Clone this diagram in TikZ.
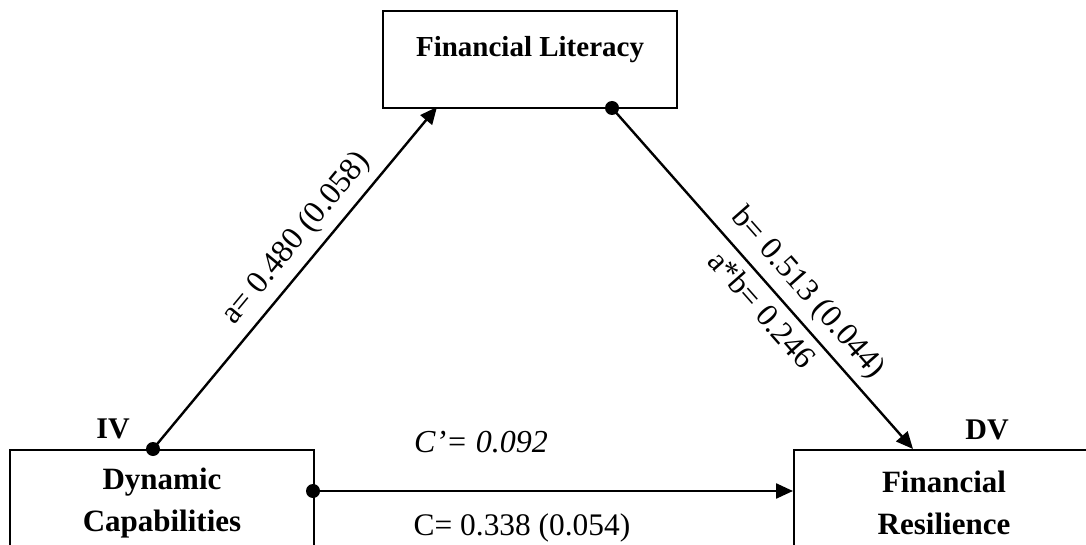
\documentclass[tikz,border=0pt]{standalone}
\usepackage{fontspec}
\setmainfont{Liberation Serif}
\usetikzlibrary{arrows.meta}
\begin{document}
\begin{tikzpicture}[x=0.5pt,y=-0.5pt,
  box/.style={draw, line width=1.2pt, rectangle, inner sep=0pt, anchor=north west},
  boxtext/.style={font=\fontsize{15.5}{21}\selectfont\bfseries, align=center, inner sep=0pt},
  tag/.style={font=\fontsize{15}{18}\selectfont\bfseries, inner sep=0pt},
  lbl/.style={font=\fontsize{15.7}{19}\selectfont, inner sep=0pt},
  slbl/.style={font=\fontsize{16}{19}\selectfont, inner sep=4pt, sloped},
  dot/.style={circle, fill=black, inner sep=0pt, minimum size=7pt},
  conn/.style={line width=1.2pt, -{Triangle[length=8.5pt,width=7.5pt]}}
]
\useasboundingbox (0,0) rectangle (1086,545);
\clip (0,0) rectangle (1086,545);
% boxes
\node[box, minimum width=147pt, minimum height=48.5pt] (fl) at (382,10) {};
\node[box, minimum width=152pt, minimum height=80pt] (dc) at (9,449) {};
\node[box, minimum width=180pt, minimum height=80pt] (fr) at (793,449) {};
% texts
\node[boxtext, font=\fontsize{14.5}{20}\selectfont\bfseries] (flt) at (530,50) {Financial Literacy};
\node[boxtext] (dct) at (162,503) {Dynamic\\Capabilities};
\node[boxtext] (frt) at (944,503) {Financial\\Resilience};
\node[tag, anchor=base] (iv) at (113,438) {IV};
\node[tag, anchor=base] (dv) at (987,439) {DV};
% dots and end points
\node[dot] (d1) at (153,449) {};
\node[dot] (d2) at (612,108) {};
\node[dot] (d3) at (313,491) {};
\coordinate (e1) at (437,107);
\coordinate (e2) at (913,449);
\coordinate (e3) at (793,491);
% connectors
\draw[conn] (d1.center) -- (e1) node[slbl, pos=0.57, above] (la) {a= 0.480 (0.058)};
\draw[conn] (d2.center) -- (e2)
  node[slbl, pos=0.59, above] (lb) {b= 0.513 (0.044)}
  node[slbl, pos=0.55, below] (lab) {a*b= 0.246};
\draw[conn] (d3.center) -- (e3);
\node[lbl, font=\fontsize{16}{19}\selectfont\itshape, anchor=base] (lc1) at (481,452) {C’= 0.092};
\node[lbl, anchor=base] (lc2) at (522,535) {C= 0.338 (0.054)};
\end{tikzpicture}
\end{document}
